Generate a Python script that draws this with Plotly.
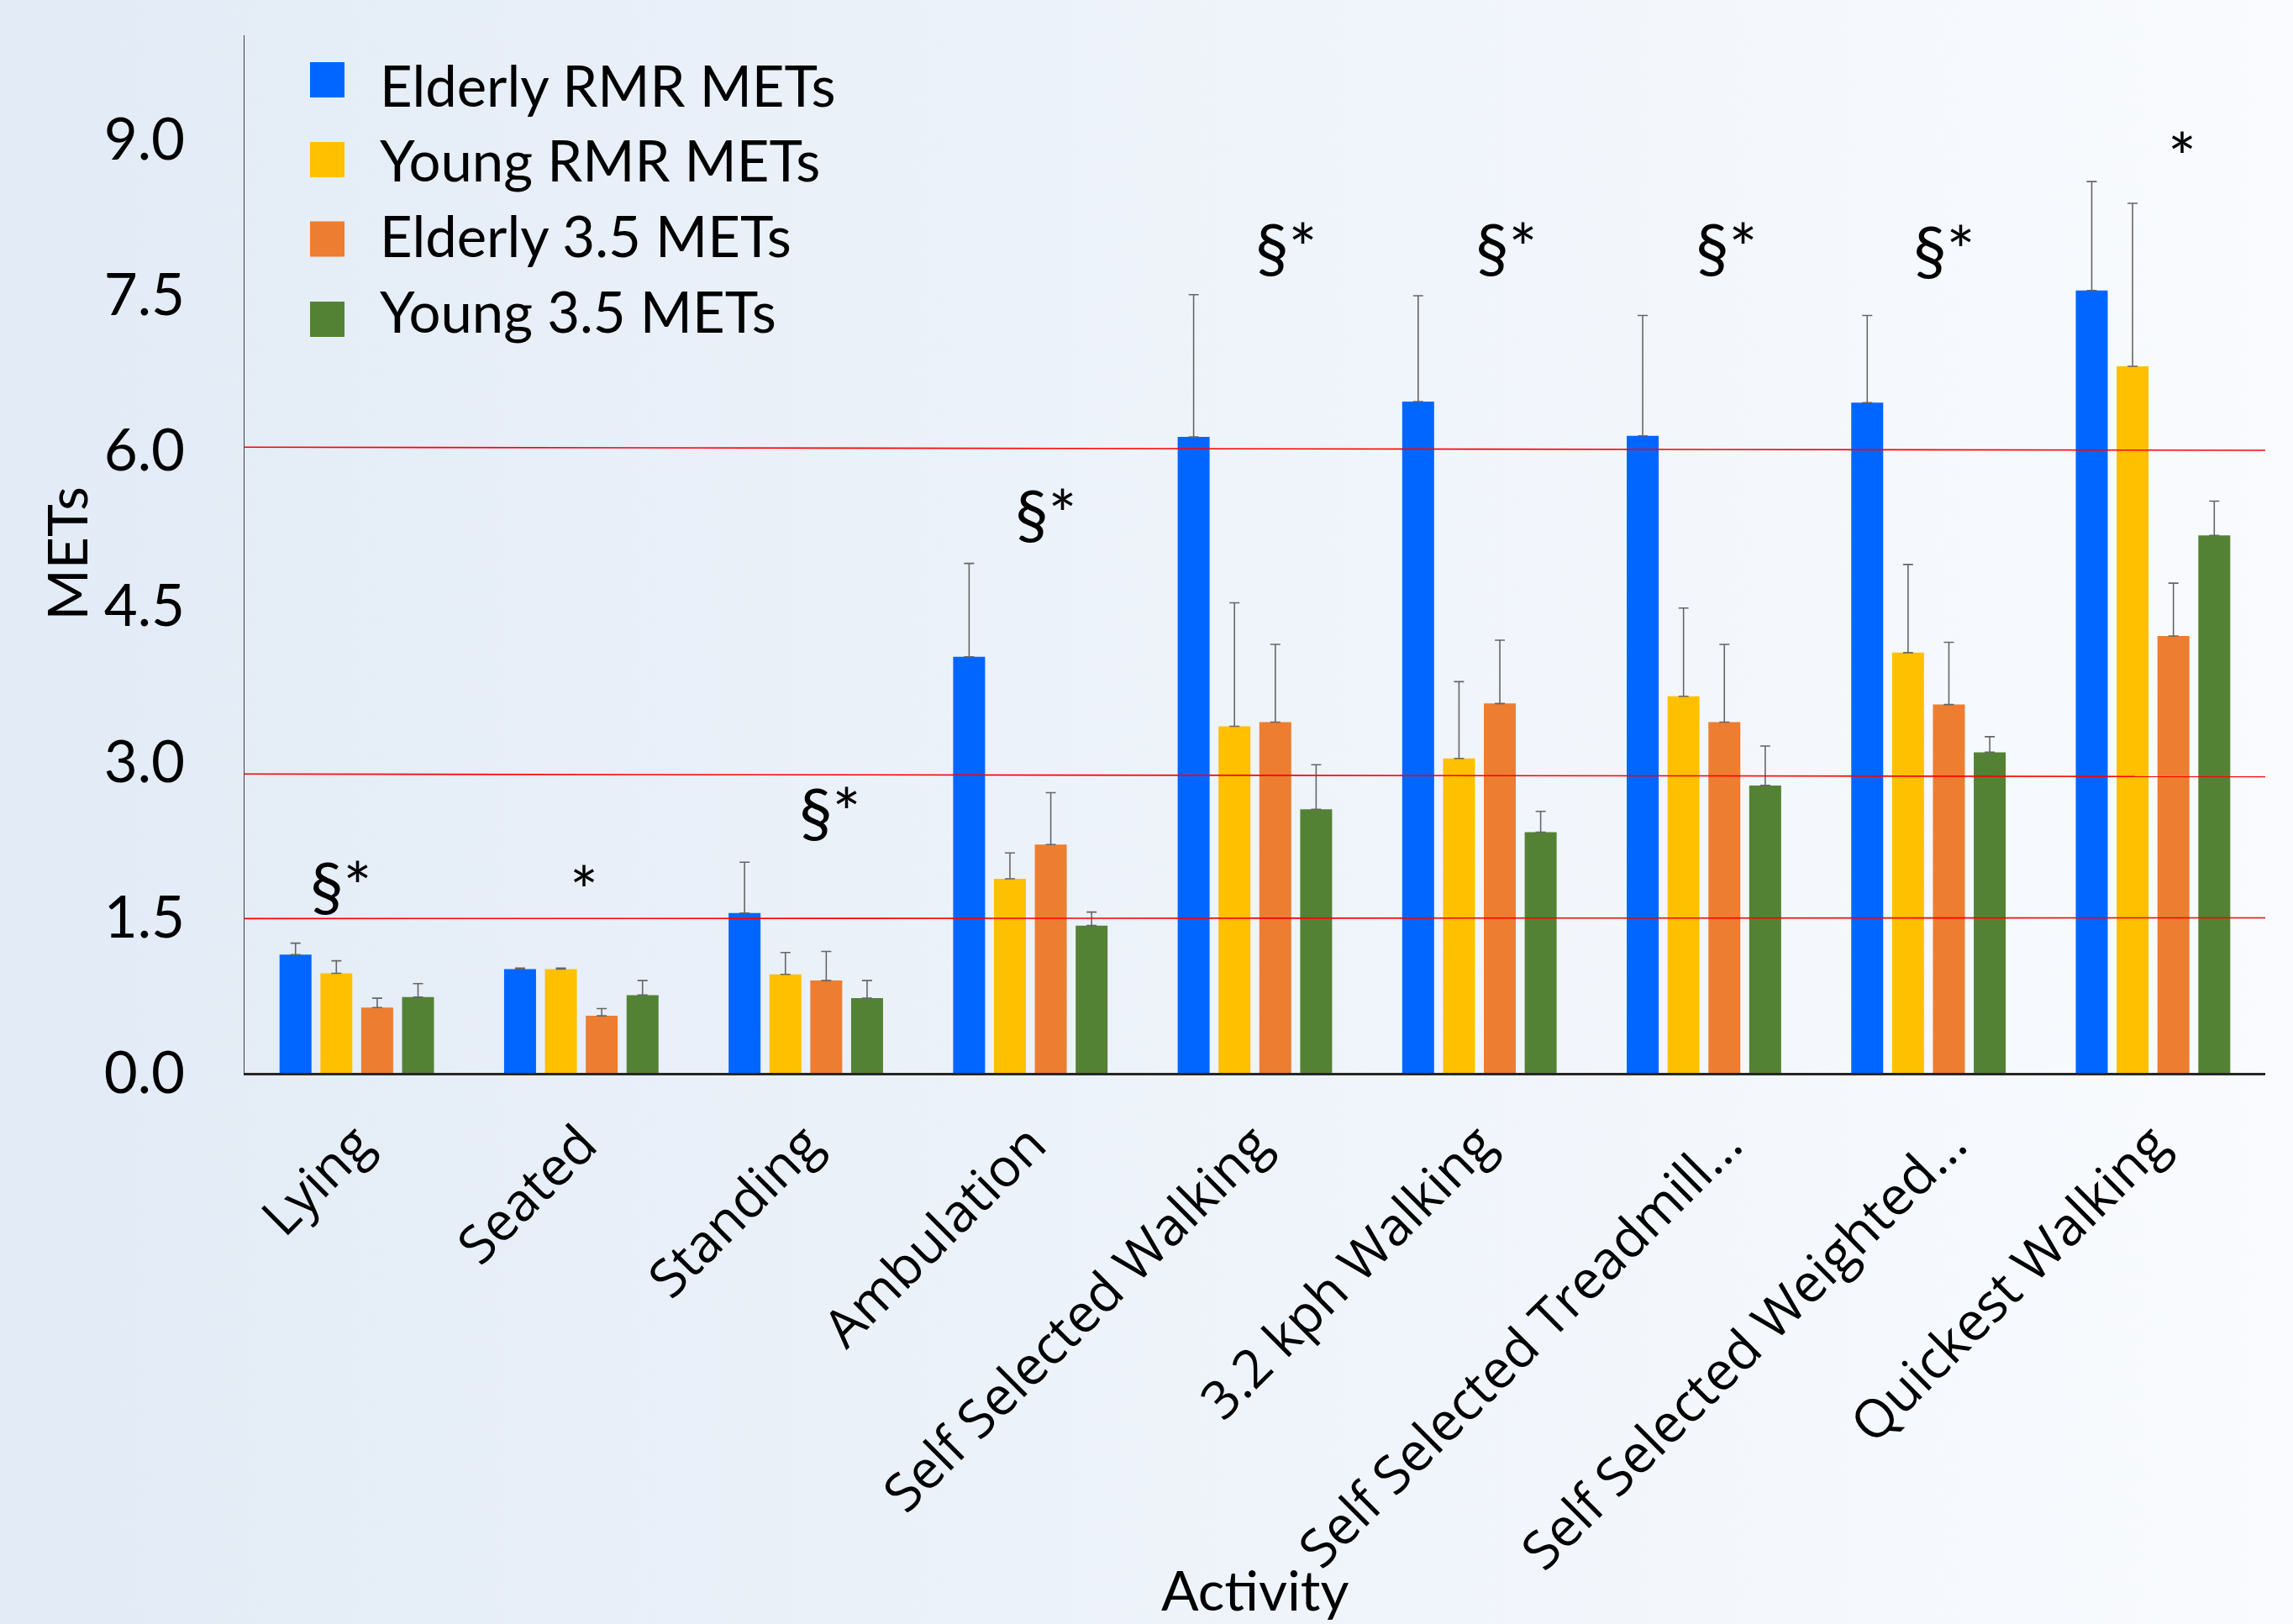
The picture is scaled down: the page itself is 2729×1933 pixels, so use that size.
import base64
import plotly.graph_objects as go

# ---- data -------------------------------------------------------------
activities = [
    "Lying", "Seated", "Standing", "Ambulation", "Self Selected Walking",
    "3.2 kph Walking", "Self Selected Treadmill...", "Self Selected Weighted...",
    "Quickest Walking",
]

series_names = ["Elderly RMR METs", "Young RMR METs", "Elderly 3.5 METs", "Young 3.5 METs"]

elderly_rmr = [1.14, 1.00, 1.54, 4.01, 6.13, 6.47, 6.14, 6.46, 7.54]
young_rmr = [0.96, 1.00, 0.95, 1.87, 3.34, 3.03, 3.63, 4.05, 6.81]
elderly_35 = [0.63, 0.55, 0.89, 2.20, 3.38, 3.56, 3.38, 3.55, 4.21]
young_35 = [0.73, 0.75, 0.72, 1.42, 2.54, 2.32, 2.77, 3.09, 5.18]

elderly_rmr_sd = [0.11, 0.01, 0.49, 0.90, 1.37, 1.02, 1.16, 0.84, 1.05]
young_rmr_sd = [0.12, 0.01, 0.21, 0.25, 1.19, 0.74, 0.85, 0.85, 1.57]
elderly_35_sd = [0.09, 0.07, 0.28, 0.50, 0.75, 0.61, 0.75, 0.60, 0.51]
young_35_sd = [0.13, 0.14, 0.17, 0.13, 0.43, 0.20, 0.38, 0.15, 0.33]

# significance markers above each activity group
sig_marks = ["§*", "*", "§*", "§*", "§*", "§*", "§*", "§*", "*"]

y_ticks = [0.0, 1.5, 3.0, 4.5, 6.0, 7.5, 9.0]

# ---- styling ----------------------------------------------------------
colors = ["#0066FF", "#FFC000", "#ED7D31", "#548235"]
TEXT_FONT = "Lato, 'Open Sans', sans-serif"
CAT_FONT = "'Open Sans', 'Noto Sans', sans-serif"

W, H = 2729, 1933
ML, MR, MT, MB = 291, 33, 42, 656
PW, PH = W - ML - MR, H - MT - MB


def paper_x(px):
    return (px - ML) / PW


def paper_y(py):
    return (H - MB - py) / PH


values = [elderly_rmr, young_rmr, elderly_35, young_35]
errors = [elderly_rmr_sd, young_rmr_sd, elderly_35_sd, young_35_sd]

fig = go.Figure()
for name, vals, errs, col in zip(series_names, values, errors, colors):
    fig.add_trace(go.Bar(
        x=activities, y=vals, name=name,
        marker=dict(color=col, line=dict(width=0)),
        error_y=dict(type="data", array=errs, arrayminus=[0] * len(errs),
                     symmetric=False, color="#666666", thickness=1.6, width=6),
        showlegend=False,
    ))

# soft horizontal gradient behind the whole figure
svg = (
    '<svg xmlns="http://www.w3.org/2000/svg" width="100" height="100" '
    'preserveAspectRatio="none" viewBox="0 0 100 100">'
    '<defs><linearGradient id="g" x1="0" y1="0" x2="1" y2="0">'
    '<stop offset="0" stop-color="#E2EBF6"/>'
    '<stop offset="1" stop-color="#F9FBFE"/>'
    '</linearGradient></defs>'
    '<rect width="100" height="100" fill="url(#g)"/></svg>'
)
bg_src = "data:image/svg+xml;base64," + base64.b64encode(svg.encode()).decode()

shapes = []
# MET threshold guide lines
for y_left, y_right in [(6.03, 6.00), (2.88, 2.855), (1.487, 1.494)]:
    shapes.append(dict(type="line", xref="x domain", yref="y",
                       x0=0, x1=1, y0=y_left, y1=y_right,
                       line=dict(color="#FF0000", width=1.6), layer="above"))

annotations = []
# legend: colour swatches and labels
swatch_rows = [95, 190, 284.5, 380]
label_rows = [101, 190.5, 280, 370]
for name, col, ys, yt in zip(series_names, colors, swatch_rows, label_rows):
    shapes.append(dict(type="rect", xref="paper", yref="paper",
                       x0=paper_x(369), x1=paper_x(410),
                       y0=paper_y(ys + 21), y1=paper_y(ys - 21),
                       fillcolor=col, line=dict(width=0)))
    annotations.append(dict(text=name, xref="paper", yref="paper",
                            x=paper_x(450), y=paper_y(yt),
                            xanchor="left", yanchor="middle", showarrow=False,
                            font=dict(family=TEXT_FONT, size=67, color="#000000")))

# significance markers
sig_x = [-0.07, 1.01, 2.11, 3.07, 4.14, 5.12, 6.10, 7.07, 8.13]
sig_y = [1.81, 1.77, 2.53, 5.40, 7.97, 7.97, 7.97, 7.94, 8.84]
for txt, xs, ys in zip(sig_marks, sig_x, sig_y):
    annotations.append(dict(text=txt, x=xs, y=ys, xref="x", yref="y",
                            xanchor="center", yanchor="middle", showarrow=False,
                            font=dict(family=TEXT_FONT, size=80, color="#000000")))

# axis titles
annotations.append(dict(text="METs", xref="paper", yref="paper",
                        x=paper_x(78), y=0.5, textangle=-90,
                        xanchor="center", yanchor="middle", showarrow=False,
                        font=dict(family=TEXT_FONT, size=66, color="#000000")))
annotations.append(dict(text="Activity", xref="paper", yref="paper",
                        x=0.5, y=paper_y(1933), yanchor="bottom",
                        xanchor="center", showarrow=False,
                        font=dict(family=TEXT_FONT, size=66, color="#000000")))

# truncated category labels sit a little further right
label_shift = [0, 0, 0, 0, 0, 0, 0.1, 0.1, 0]
tick_pos = [i + s for i, s in enumerate(label_shift)]

fig.update_layout(
    width=W, height=H,
    margin=dict(l=ML, r=MR, t=MT, b=MB, pad=0),
    paper_bgcolor="#EEF3FA",
    plot_bgcolor="rgba(0,0,0,0)",
    barmode="group",
    bargap=0.2725,
    bargroupgap=0.218,
    showlegend=False,
    images=[dict(source=bg_src, xref="paper", yref="paper",
                 x=paper_x(0), y=paper_y(0),
                 sizex=W / PW, sizey=H / PH,
                 xanchor="left", yanchor="top",
                 sizing="stretch", layer="below")],
    shapes=shapes,
    annotations=annotations,
)

fig.update_xaxes(
    type="category", categoryorder="array", categoryarray=activities,
    range=[-0.5, 8.5], showgrid=False, zeroline=False,
    showline=True, linecolor="#262626", linewidth=2.5,
    ticks="", tickangle=-45, ticklabelstandoff=20,
    tickmode="array", tickvals=tick_pos, ticktext=activities,
    tickfont=dict(family=CAT_FONT, size=63, color="#000000"),
)
fig.update_yaxes(
    range=[0, 10], showgrid=False, zeroline=False,
    showline=True, linecolor="#404040", linewidth=1.3,
    ticks="", tickvals=y_ticks, ticktext=[f"{v:.1f}" for v in y_ticks],
    ticklabelstandoff=56,
    tickfont=dict(family=TEXT_FONT, size=69, color="#000000"),
)

fig.write_html("out.html")
